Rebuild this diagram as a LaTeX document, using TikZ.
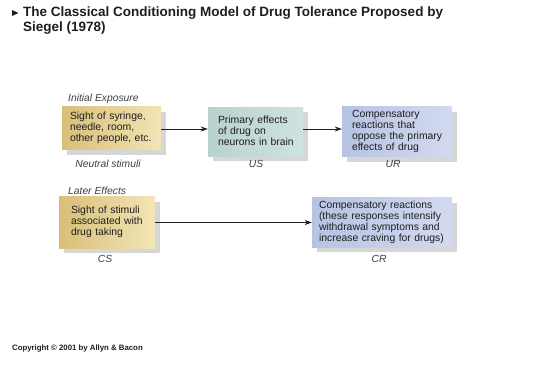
\documentclass[tikz,border=0pt]{standalone}
\usepackage{fontspec}
\setmainfont{Liberation Sans}
\usetikzlibrary{shadows,arrows.meta}
\definecolor{txt}{HTML}{1E1E1E}
\definecolor{goldL}{HTML}{D9BE78}
\definecolor{goldR}{HTML}{F2E5B6}
\definecolor{tealL}{HTML}{B9D2CF}
\definecolor{tealR}{HTML}{CFE2DF}
\definecolor{blueL}{HTML}{B7C3E3}
\definecolor{blueR}{HTML}{D2DAF0}
\newcommand{\lines}[1]{\begin{tabular}{@{}l@{}}#1\end{tabular}}
\tikzset{
  box/.style={rectangle, inner xsep=#1, inner ysep=0pt, align=left, text=txt,
    font=\fontsize{10.4}{10.9}\selectfont,
    drop shadow={shadow xshift=5pt, shadow yshift=-5pt, fill=black!40, opacity=.4}},
  goldbox/.style={box=#1, left color=goldL, right color=goldR},
  tealbox/.style={box=#1, left color=tealL, right color=tealR},
  bluebox/.style={box=#1, left color=blueL, right color=blueR},
  lab/.style={font=\itshape\fontsize{10.3}{11}\selectfont, text=txt!85, inner sep=0pt},
  conn/.style={-{Stealth[length=7pt,width=5pt]}, line width=0.8pt, draw=txt},
}
\begin{document}
\begin{tikzpicture}[x=1pt,y=-1pt]
\useasboundingbox[fill=white] (0,0) rectangle (538,366);
% title
\fill[txt] (12,10) -- (18.5,13) -- (12,16) -- cycle;
\node[anchor=base west, inner sep=0pt, align=left, font=\bfseries\fontsize{13.5}{15}\selectfont, text=txt] (title) at (23,32)
  {The Classical Conditioning Model of Drug Tolerance Proposed by\\Siegel (1978)};
% row 1
\node[goldbox=8pt, text width=83pt, minimum height=43pt] (b1) at (111.5,128.5)
  {\lines{Sight of syringe,\\needle, room,\\other people, etc.}};
\node[tealbox=10pt, text width=75pt, minimum height=49pt] (b2) at (255.5,132)
  {\lines{Primary effects\\of drug on\\neurons in brain}};
\node[bluebox=10pt, text width=90pt, minimum height=50pt] (b3) at (397,132)
  {\lines{Compensatory\\reactions that\\oppose the primary\\effects of drug}};
% row 2
\node[goldbox=12pt, text width=72pt, minimum height=51pt] (b4) at (107,222.5)
  {\lines{Sight of stimuli\\associated with\\drug taking}};
\node[bluebox=7pt, text width=126pt, minimum height=49pt] (b5) at (382,222.5)
  {\lines{Compensatory reactions\\(these responses intensify\\withdrawal symptoms and\\increase craving for drugs)}};
% labels
\node[lab, anchor=base west] (l1) at (68,102) {Initial Exposure};
\node[lab, anchor=base] (l2) at (108,168) {Neutral stimuli};
\node[lab, anchor=base] (l3) at (256,168) {US};
\node[lab, anchor=base] (l4) at (393,168) {UR};
\node[lab, anchor=base west] (l5) at (68,195) {Later Effects};
\node[lab, anchor=base] (l6) at (105,262) {CS};
\node[lab, anchor=base] (l7) at (379,262) {CR};
% connectors
\coordinate (a1) at (b1.east |- 0,129);
\coordinate (a2) at (b2.west |- 0,129);
\coordinate (a3) at (b2.east |- 0,129);
\coordinate (a4) at (b3.west |- 0,129);
\draw[conn] (a1) -- (a2);
\draw[conn] (a3) -- (a4);
\draw[conn] (b4) -- (b5);
% copyright
\node[anchor=base west, inner sep=0pt, font=\bfseries\fontsize{7.8}{9}\selectfont, text=txt] (copy) at (12,350)
  {Copyright \textcopyright\ 2001 by Allyn \& Bacon};
\end{tikzpicture}
\end{document}
